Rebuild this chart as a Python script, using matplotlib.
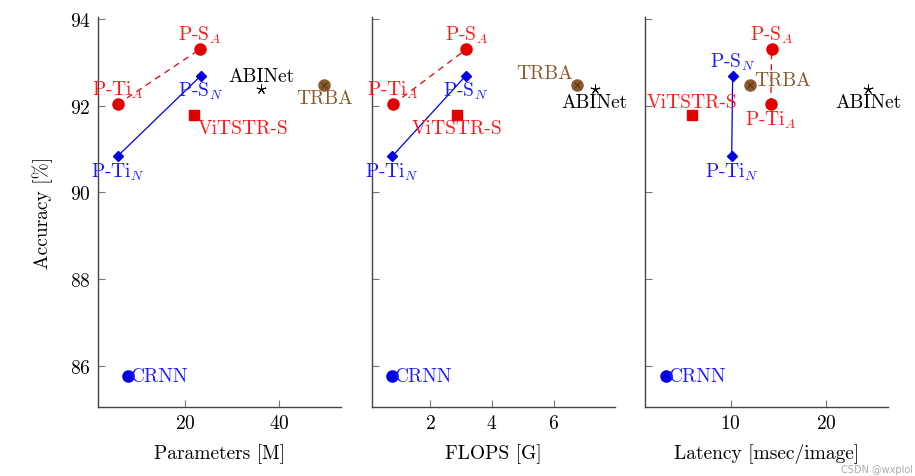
import matplotlib
matplotlib.use("Agg")
import matplotlib.pyplot as plt

plt.rcParams["font.family"] = ["cmr10", "DejaVu Serif"]
plt.rcParams["mathtext.fontset"] = "cm"
plt.rcParams["axes.formatter.use_mathtext"] = True

# model order shared by every panel
models = ["P-Ti$_A$", "P-S$_A$", "P-Ti$_N$", "P-S$_N$", "ViTSTR-S", "ABINet", "TRBA", "CRNN"]
accuracy = [92.04, 93.31, 90.84, 92.69, 91.79, 92.39, 92.48, 85.77]
params = [5.7, 23.2, 5.7, 23.3, 21.9, 36.2, 49.6, 7.9]
flops = [0.80, 3.17, 0.77, 3.14, 2.88, 7.33, 6.75, 0.77]
latency = [14.2, 14.27, 10.1, 10.2, 5.9, 24.4, 11.98, 3.2]

xlabels = ["Parameters [M]", "FLOPS [G]", "Latency [msec/image]"]
xticks = [[20, 40], [2, 4, 6], [10, 20]]
xlims = [(1.5, 53.2), (0.11, 8.0), (1.04, 26.5)]
yticks = [86, 88, 90, 92, 94]

RED = "#e00000"
RED_TXT = "#ff1a1a"
BLUE = "#0000e0"
BLUE_TXT = "#1a1aff"
BROWN = "#8a5a2b"
FS = 14

# per model: marker, size, colour, label colour
styles = [
    ("o", 8, RED, RED_TXT),
    ("o", 8, RED, RED_TXT),
    ("D", 5, BLUE, BLUE_TXT),
    ("D", 5, BLUE, BLUE_TXT),
    ("s", 7, RED, RED_TXT),
    ("*", 0, "black", "black"),
    ("o", 8, BROWN, BROWN),
    ("o", 8, BLUE, BLUE_TXT),
]

# label placement per panel: (dx, dy, ha, va) in points
UP = (0, 3, "center", "bottom")
DOWN = (0, -3, "center", "top")
RIGHT = (2, 0, "left", "center")
placements = [
    [UP, UP, DOWN, DOWN, (3, -3, "left", "top"), UP, DOWN, RIGHT],
    [UP, UP, DOWN, DOWN, DOWN, DOWN, (-3, 2, "right", "bottom"), RIGHT],
    [DOWN, UP, DOWN, UP, UP, DOWN, (3, 4, "left", "center"), RIGHT],
]

fig = plt.figure(figsize=(9.15, 4.77), dpi=100)
lefts = [0.107, 0.4066, 0.705]
width = 0.266
bottom, height = 0.145, 0.817

for i, xs in enumerate([params, flops, latency]):
    ax = fig.add_axes([lefts[i], bottom, width, height])
    # N and A variants joined by lines
    ax.plot([xs[2], xs[3]], [accuracy[2], accuracy[3]], color=BLUE, lw=0.9, zorder=2)
    ax.plot([xs[0], xs[1]], [accuracy[0], accuracy[1]], color=RED, lw=0.9,
            ls=(0, (5, 4)), zorder=2)
    for j, name in enumerate(models):
        mk, ms, col, tcol = styles[j]
        x, y = xs[j], accuracy[j]
        if mk == "*":
            ax.plot(x, y, marker=(5, 2, 0), ms=7, color="black", mew=0.7, ls="none", zorder=3)
        else:
            ax.plot(x, y, marker=mk, ms=ms, color=col, mec=col, ls="none", zorder=3)
            if name == "TRBA":
                ax.plot(x, y, marker="x", ms=5, color="#4a2e10", mew=0.6, ls="none", zorder=4)
        dx, dy, ha, va = placements[i][j]
        ax.annotate(name, (x, y), xytext=(dx, dy), textcoords="offset points",
                    ha=ha, va=va, color=tcol, fontsize=FS, zorder=5)

    ax.set_xlim(*xlims[i])
    ax.set_ylim(85.05, 94.05)
    ax.set_xticks(xticks[i])
    ax.set_yticks(yticks)
    for side in ["top", "right"]:
        ax.spines[side].set_visible(False)
    for side in ["left", "bottom"]:
        ax.spines[side].set_color("#444444")
        ax.spines[side].set_linewidth(1.0)
    ax.tick_params(direction="in", length=5, color="#777777", width=0.8,
                   labelsize=FS, pad=5)
    if i > 0:
        ax.tick_params(axis="y", labelleft=False)
    else:
        ax.set_ylabel("Accuracy [%]", fontsize=FS, labelpad=12)
    ax.set_xlabel(xlabels[i], fontsize=FS, labelpad=8)

fig.text(0.998, 0.004, "CSDN @wxplol", ha="right", va="bottom", fontsize=7,
         color="#aaaaaa", family="DejaVu Sans")

fig.savefig("out.png", dpi=100)
